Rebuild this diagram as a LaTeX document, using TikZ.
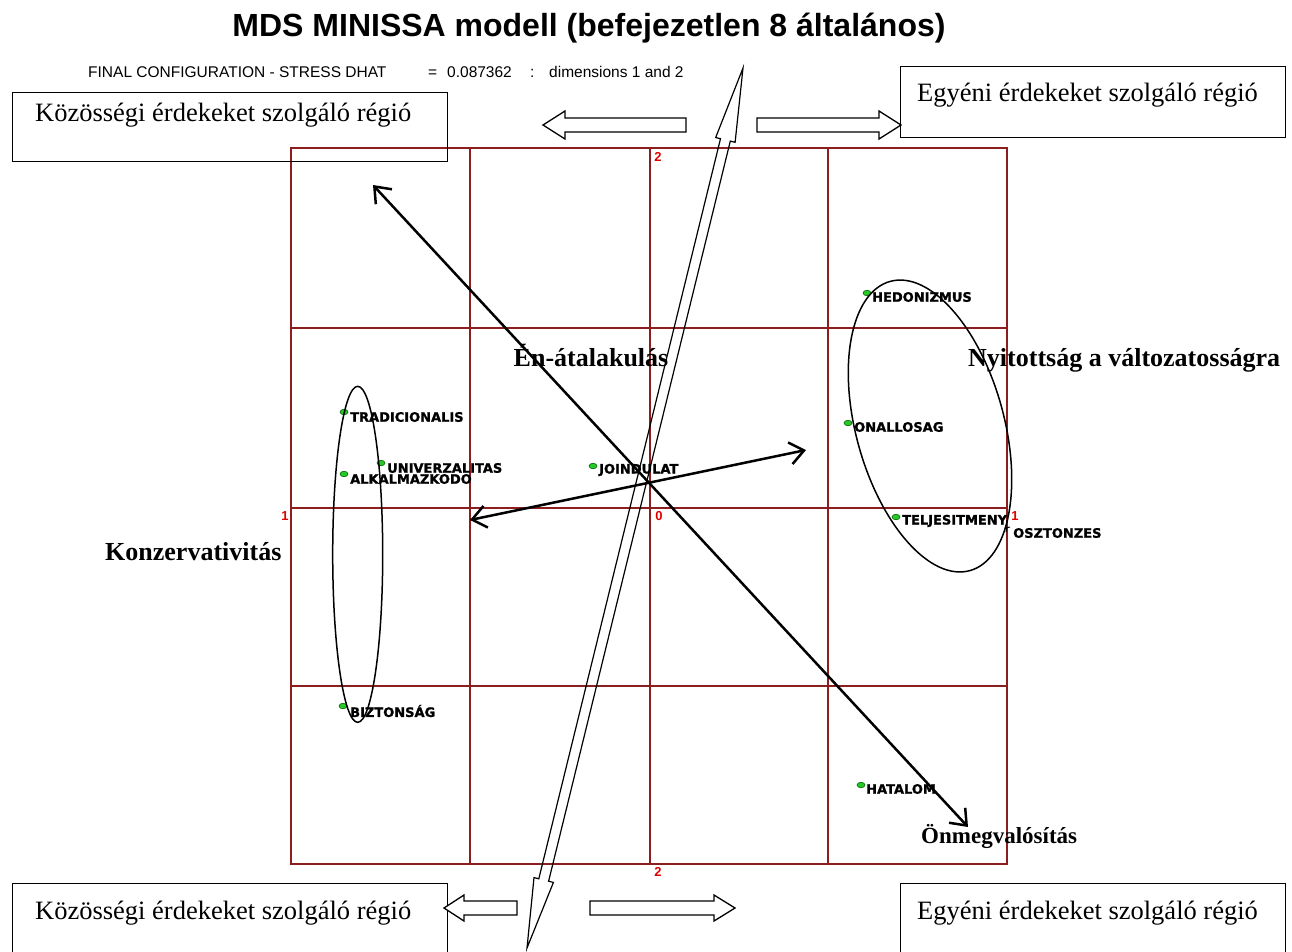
\documentclass[tikz,border=0pt]{standalone}
\usepackage{fontspec}
\setmainfont{Liberation Serif}
\setsansfont{Liberation Sans}
\newfontfamily\plotfont[FakeBold=1.2]{DejaVu Sans Bold}
\usetikzlibrary{arrows.meta,shapes.geometric}

\definecolor{gridred}{RGB}{140,30,30}
\definecolor{axisred}{RGB}{225,0,0}
\definecolor{dotgreen}{RGB}{40,200,40}

\begin{document}
\begin{tikzpicture}[x=1pt,y=-1pt,
  gridline/.style={draw=gridred,line width=1.3pt},
  axislabel/.style={text=axisred,inner sep=0,font=\sffamily\bfseries\fontsize{13}{13}\selectfont},
  ptdot/.style={shape=ellipse,draw=black!60!green,fill=dotgreen,line width=0.6pt,
    minimum width=8pt,minimum height=5.5pt,inner sep=0},
  ptlabel/.style={anchor=west,inner sep=0,font=\plotfont\fontsize{13}{13}\selectfont},
  regionbox/.style={draw,line width=1.3pt,anchor=north west,inner sep=0},
  regiontext/.style={anchor=base west,inner sep=0,font=\fontsize{26.5}{26.5}\selectfont},
  dimlabel/.style={inner sep=0,font=\bfseries\fontsize{26}{26}\selectfont},
  blockarrow/.style={draw,fill=white,line width=1.3pt,line join=miter},
  bigarrow/.style={line width=2.5pt,
    {Straight Barb[length=14pt,width=22pt]}-{Straight Barb[length=14pt,width=22pt]}},
  ring/.style={line width=1.5pt}]

\useasboundingbox (0,0) rectangle (1292,951);
\clip (0,0) rectangle (1292,951);

% title and stress line
\node[anchor=base,inner sep=0,font=\sffamily\bfseries\fontsize{32}{32}\selectfont]
  (title) at (589,36) {MDS MINISSA modell (befejezetlen 8 általános)};
\node[anchor=base west,inner sep=0,font=\sffamily\fontsize{15.5}{15.5}\selectfont]
  (stress) at (88,77) {FINAL CONFIGURATION - STRESS DHAT};
\node[anchor=base west,inner sep=0,font=\sffamily\fontsize{15.5}{15.5}\selectfont]
  (eq) at (428,77) {=};
\node[anchor=base west,inner sep=0,font=\sffamily\fontsize{15.5}{15.5}\selectfont]
  (val) at (447,77) {0.087362};
\node[anchor=base west,inner sep=0,font=\sffamily\fontsize{15.5}{15.5}\selectfont]
  (colon) at (530,77) {:};
\node[anchor=base west,inner sep=0,font=\sffamily\fontsize{15.5}{15.5}\selectfont]
  (dims) at (549,77) {dimensions 1 and 2};

% configuration grid
\draw[gridline] (291,148) rectangle (1007,864);
\foreach \gx in {470,650,828} \draw[gridline] (\gx,148) -- (\gx,864);
\foreach \gy in {328,508,686} \draw[gridline] (291,\gy) -- (1007,\gy);

% axis values
\node[axislabel] (ytop) at (658,157) {2};
\node[axislabel] (xleft) at (285,516) {1};
\node[axislabel] (origin) at (659,516) {0};
\node[axislabel] (xright) at (1015,516) {1};
\node[axislabel] (ybot) at (658,872) {2};

% region boxes
\node[regionbox,minimum width=435pt,minimum height=69pt] (boxTL) at (12,92) {};
\node[regiontext] (txtTL) at (35,121) {Közösségi érdekeket szolgáló régió};
\node[regionbox,minimum width=385pt,minimum height=71pt] (boxTR) at (900,66) {};
\node[regiontext] (txtTR) at (917,101) {Egyéni érdekeket szolgáló régió};
\node[regionbox,minimum width=435pt,minimum height=80pt] (boxBL) at (12,883) {};
\node[regiontext] (txtBL) at (35,919) {Közösségi érdekeket szolgáló régió};
\node[regionbox,minimum width=385pt,minimum height=80pt] (boxBR) at (900,883) {};
\node[regiontext] (txtBR) at (917,919) {Egyéni érdekeket szolgáló régió};

% block arrows pointing towards the regions
\draw[blockarrow] (543,125) -- (565,111) -- (565,118) -- (686,118) -- (686,132)
  -- (565,132) -- (565,139) -- cycle;
\draw[blockarrow] (757,118) -- (879,118) -- (879,111) -- (901,125) -- (879,139)
  -- (879,132) -- (757,132) -- cycle;
\draw[blockarrow] (444,908) -- (464,895) -- (464,901) -- (517,901) -- (517,915)
  -- (464,915) -- (464,921) -- cycle;
\draw[blockarrow] (590,901) -- (714,901) -- (714,895) -- (735,908) -- (714,921)
  -- (714,915) -- (590,915) -- cycle;

% plotted values
\node[ptdot] (hed) at (867,293) {};
\node[ptlabel] (hedl) at (872,297) {HEDONIZMUS};
\node[ptdot] (tra) at (344,412) {};
\node[ptlabel] (tral) at (350,417) {TRADICIONALIS};
\node[ptdot] (alk) at (344,474) {};
\node[ptlabel] (alkl) at (350,479) {ALKALMAZKODO};
\node[ptdot] (uni) at (381,463) {};
\node[ptlabel] (unil) at (387,468) {UNIVERZALITAS};
\node[ptdot] (joi) at (593,466) {};
\node[ptlabel] (joil) at (599,470) {JOINDULAT};
\node[ptdot] (ona) at (848,423) {};
\node[ptlabel] (onal) at (854,427) {ONALLOSAG};
\node[ptdot] (tel) at (896,517) {};
\node[ptlabel] (tell) at (902,521) {TELJESITMENY};
\draw[line width=1pt] (1005,528) -- (1010,527) (1007,527) -- (1006,532);
\node[ptlabel] (oszl) at (1013,533) {OSZTONZES};
\node[ptdot] (biz) at (343,706) {};
\node[ptlabel] (bizl) at (350,711) {BIZTONSÁG};
\node[ptdot] (hat) at (861,785) {};
\node[ptlabel] (hatl) at (866,789) {HATALOM};

% value groups
\draw[ring] (357.7,554.3) ellipse [x radius=25,y radius=168];
\draw[ring,rotate around={15.4:(930,426)}] (930,426) ellipse [x radius=74,y radius=150];

% dimension names
\node[dimlabel,anchor=base] (enat) at (591,366) {Én-átalakulás};
\node[dimlabel,anchor=base west] (nyit) at (968,366) {Nyitottság a változatosságra};
\node[dimlabel,anchor=base west] (konz) at (105,560) {Konzervativitás};
\node[dimlabel,anchor=base west,font=\bfseries\fontsize{23}{23}\selectfont]
  (onmeg) at (921,843) {Önmegvalósítás};

% main axes of the configuration
\coordinate (dnw) at (373,185);
\coordinate (dse) at (968,827);
\coordinate (ew) at (470,520);
\coordinate (ee) at (806,450);
\draw[bigarrow] (dnw) -- (dse);
\draw[bigarrow] (ew) -- (ee);

% long hollow double arrow
\draw[line width=1.2pt,line join=miter]
  (743,68) -- (735.1,142.3) -- (730.3,141.1) -- (548.6,881.2) -- (553.4,882.4)
  -- (527,948) -- (534.0,877.6) -- (538.8,878.8) -- (720.5,138.7) -- (715.7,137.5)
  -- cycle;

\end{tikzpicture}
\end{document}
